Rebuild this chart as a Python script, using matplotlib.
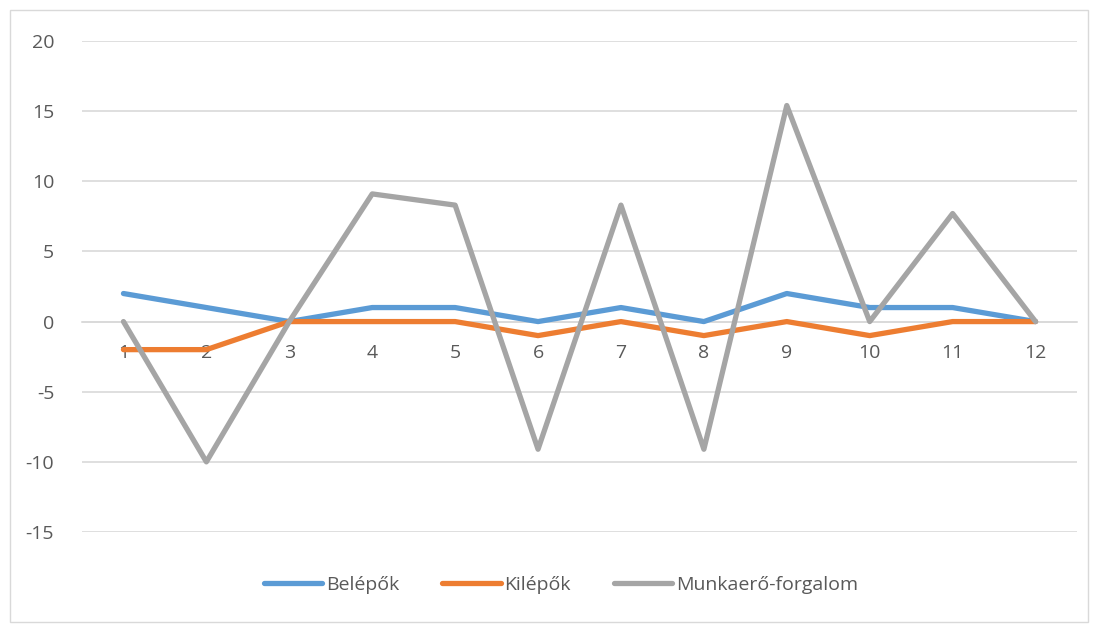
import matplotlib
matplotlib.use("Agg")
import matplotlib.pyplot as plt
from matplotlib.patches import Rectangle

categories = [1, 2, 3, 4, 5, 6, 7, 8, 9, 10, 11, 12]
belepok = [2, 1, 0, 1, 1, 0, 1, 0, 2, 1, 1, 0]
kilepok = [-2, -2, 0, 0, 0, -1, 0, -1, 0, -1, 0, 0]
munkaero = [0, -10, 0, 9.1, 8.3, -9.1, 8.3, -9.1, 15.4, 0, 7.7, 0]
series_names = ["Belépők", "Kilépők", "Munkaerő-forgalom"]
colors = ["#5B9BD5", "#ED7D31", "#A5A5A5"]
y_ticks = [-15, -10, -5, 0, 5, 10, 15, 20]

plt.rcParams['font.family'] = ['Open Sans', 'DejaVu Sans']
W, H = 1093, 624
fig = plt.figure(figsize=(W / 100, H / 100), dpi=100)
ax = fig.add_axes([82 / W, 1 - 532 / H, (1077 - 82) / W, (532 - 41) / H])

fig.patches.append(Rectangle((10 / W, 2 / H), 1078 / W, 612 / H, transform=fig.transFigure,
                             fill=False, edgecolor="#D9D9D9", linewidth=1))

x = list(range(1, len(categories) + 1))
for vals, name, c in zip([belepok, kilepok, munkaero], series_names, colors):
    ax.plot(x, vals, color=c, linewidth=3.8, label=name, solid_capstyle='round', solid_joinstyle='round')

ax.set_xlim(0.5, len(categories) + 0.5)
ax.set_ylim(-15, 20)
ax.set_yticks(y_ticks)
ax.set_yticklabels([str(v) for v in y_ticks])
ax.grid(axis='y', color="#D9D9D9", linewidth=1.2)
ax.set_axisbelow(True)
for s in ['top', 'right', 'left']:
    ax.spines[s].set_visible(False)
ax.spines['bottom'].set_position(('data', 0))
ax.spines['bottom'].set_color("#D9D9D9")
ax.spines['bottom'].set_linewidth(1.2)
ax.spines['bottom'].set_zorder(0.5)
ax.set_xticks(x)
ax.set_xticklabels([str(c) for c in categories])
ax.tick_params(axis='x', length=0, pad=16, labelsize=14, labelcolor="#595959")
ax.tick_params(axis='y', length=0, pad=20, labelsize=14, labelcolor="#595959")

fig.legend(loc='center', bbox_to_anchor=(561 / W, 1 - 585 / H), ncol=3, frameon=False,
           fontsize=14, labelcolor="#595959", handlelength=3.0, handletextpad=0.2,
           columnspacing=2.2)

fig.savefig("out.png", dpi=100)
